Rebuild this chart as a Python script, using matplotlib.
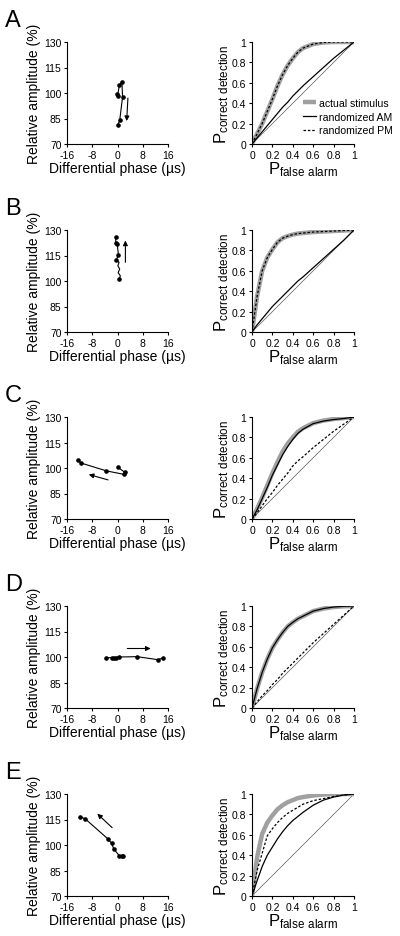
import matplotlib as mpl
import matplotlib.pyplot as plt

mpl.rcParams['font.family'] = ['Liberation Sans', 'DejaVu Sans']
mpl.rcParams['mathtext.default'] = 'regular'
mpl.rcParams['axes.unicode_minus'] = False
mpl.rcParams['xtick.labelsize'] = 7.5
mpl.rcParams['ytick.labelsize'] = 7.5

# trajectories (differential phase in us, relative amplitude in %)
phaseA = [-0.2, 0.0, 0.6, 1.4, 1.6, 0.7, 0.1]
ampA = [99.6, 98.2, 104.5, 106.7, 97.6, 83.9, 81.2]
phaseB = [0.6, 0.9, 0.2, 0.7, 0.1, 0.5, -0.4, 0.3, -0.1, -0.6, -0.5]
ampB = [101.4, 103.0, 105.0, 107.0, 109.0, 111.0, 112.4, 115.3, 122.0, 122.5, 125.9]
dotsB = [0, 6, 7, 8, 9, 10]
phaseC = [0.2, 2.3, 2.2, -3.5, -11.7, -12.6]
ampC = [100.3, 97.5, 96.2, 98.3, 103.0, 105.0]
phaseD = [-3.7, -1.9, -1.2, -0.5, 0.5, 6.2, 12.9, 14.3]
ampD = [99.6, 99.6, 99.4, 99.7, 100.0, 100.2, 98.4, 99.4]
phaseE = [1.3, 1.6, 0.5, -1.2, -1.9, -3.1, -10.3, -11.9]
ampE = [93.4, 93.8, 93.8, 97.8, 101.1, 103.7, 115.5, 116.6]

# direction arrows (start, end)
arrowA = [(3.3, 97.0), (2.9, 83.5)]
arrowB = [(2.5, 111.0), (2.5, 123.8)]
arrowC = [(-3.0, 93.0), (-9.1, 96.2)]
arrowD = [(3.1, 105.0), (10.5, 105.0)]
arrowE = [(-1.7, 110.2), (-6.4, 118.4)]

# ROC curves
fpr = [0, .05, .1, .15, .2, .25, .3, .35, .4, .45, .5, .6, .7, .8, .9, 1]
rocA_actual = [0, .10, .20, .32, .44, .57, .68, .77, .84, .90, .94, .98, .995, 1, 1, 1]
rocA_am = [0, .06, .12, .18, .24, .30, .36, .41, .47, .52, .57, .66, .75, .84, .92, 1]
rocA_pm = [0, .10, .20, .32, .44, .57, .68, .77, .84, .90, .94, .98, .995, 1, 1, 1]
rocB_actual = [0, .35, .60, .73, .81, .88, .92, .94, .955, .965, .97, .98, .985, .99, .995, 1]
rocB_am = [0, .07, .13, .19, .25, .30, .35, .40, .45, .50, .54, .63, .72, .81, .90, 1]
rocB_pm = [0, .35, .60, .73, .81, .88, .92, .94, .955, .965, .97, .98, .985, .99, .995, 1]
rocC_actual = [0, .10, .21, .33, .45, .56, .66, .74, .80, .855, .89, .94, .965, .98, .99, 1]
rocC_am = [0, .09, .20, .31, .43, .53, .63, .71, .78, .84, .88, .935, .96, .975, .985, 1]
rocC_pm = [0, .06, .13, .20, .26, .33, .39, .45, .52, .57, .61, .70, .78, .86, .93, 1]
rocD_actual = [0, .19, .35, .48, .59, .67, .74, .80, .84, .875, .90, .95, .975, .99, .997, 1]
rocD_am = [0, .19, .35, .48, .59, .67, .74, .80, .84, .875, .90, .95, .975, .99, .997, 1]
rocD_pm = [0, .06, .12, .17, .23, .28, .34, .39, .44, .49, .54, .64, .73, .82, .91, 1]
rocE_actual = [0, .38, .61, .72, .79, .85, .89, .92, .94, .96, .97, .985, .995, 1, 1, 1]
rocE_am = [0, .15, .29, .40, .48, .56, .63, .69, .74, .78, .82, .89, .94, .97, .99, 1]
rocE_pm = [0, .25, .42, .59, .66, .72, .77, .81, .84, .87, .90, .935, .955, .975, .99, 1]

letters = ['A', 'B', 'C', 'D', 'E']
phases = [phaseA, phaseB, phaseC, phaseD, phaseE]
amps = [ampA, ampB, ampC, ampD, ampE]
dots = [None, dotsB, None, None, None]
arrows = [arrowA, arrowB, arrowC, arrowD, arrowE]
actual = [rocA_actual, rocB_actual, rocC_actual, rocD_actual, rocE_actual]
am = [rocA_am, rocB_am, rocC_am, rocD_am, rocE_am]
pm = [rocA_pm, rocB_pm, rocC_pm, rocD_pm, rocE_pm]

W, H = 400., 937.
fig = plt.figure(figsize=(4, 9.37), dpi=100)
row_top = [43, 231, 418, 607, 795]
axh = 102.

def style(ax):
  for s in ['top', 'right']:
    ax.spines[s].set_visible(False)
  for s in ['left', 'bottom']:
    ax.spines[s].set_linewidth(0.8)
  ax.tick_params(direction='out', length=2.5, width=0.8, pad=1.5)

for i in range(5):
  bot = 1 - (row_top[i] + axh) / H
  # left: trajectory
  ax = fig.add_axes([67 / W, bot, 101 / W, axh / H])
  style(ax)
  ax.plot(phases[i], amps[i], 'k-', lw=0.8)
  if dots[i] is None:
    ax.plot(phases[i], amps[i], 'ko', ms=2.3, ls='none')
  else:
    ax.plot([phases[i][j] for j in dots[i]], [amps[i][j] for j in dots[i]], 'ko', ms=2.3, ls='none')
  (x0, y0), (x1, y1) = arrows[i]
  ax.annotate('', xy=(x1, y1), xytext=(x0, y0),
              arrowprops=dict(arrowstyle='-|>', color='k', lw=0.8, mutation_scale=7, shrinkA=0, shrinkB=0))
  ax.set_xlim(-16, 16)
  ax.set_ylim(70, 130)
  ax.set_xticks([-16, -8, 0, 8, 16])
  ax.set_yticks([70, 85, 100, 115, 130])
  ax.set_xlabel('Differential phase (\u00b5s)', fontsize=10, labelpad=1)
  ax.set_ylabel('Relative amplitude (%)', fontsize=10, labelpad=2)
  fig.text(5 / W, 1 - (row_top[i] - 33) / H, letters[i], fontsize=17, va='top', ha='left')

  # right: ROC
  ax2 = fig.add_axes([252 / W, bot, 102 / W, axh / H])
  style(ax2)
  ax2.plot([0, 1], [0, 1], color='0.35', lw=0.5)
  ax2.plot(fpr, actual[i], color='#a0a0a0', lw=3.2, solid_capstyle='butt', label='actual stimulus')
  ax2.plot(fpr, am[i], color='k', lw=0.9, label='randomized AM')
  ax2.plot(fpr, pm[i], color='k', lw=0.9, dashes=(2, 1.5), label='randomized PM')
  ax2.set_xlim(0, 1)
  ax2.set_ylim(0, 1)
  ticks = [0, 0.2, 0.4, 0.6, 0.8, 1]
  tl = ['0', '0.2', '0.4', '0.6', '0.8', '1']
  ax2.set_xticks(ticks)
  ax2.set_xticklabels(tl)
  ax2.set_yticks(ticks)
  ax2.set_yticklabels(tl)
  ax2.set_xlabel(r'$P_{false\ alarm}$', fontsize=12, labelpad=0)
  ax2.set_ylabel(r'$P_{correct\ detection}$', fontsize=12, labelpad=1)
  if i == 0:
    ax2.legend(loc='upper left', bbox_to_anchor=(0.5, 0.45), frameon=False, fontsize=7.6,
               handlelength=1.2, handletextpad=0.3, labelspacing=0.35, borderpad=0, borderaxespad=0)

fig.savefig('out.png', dpi=100)
